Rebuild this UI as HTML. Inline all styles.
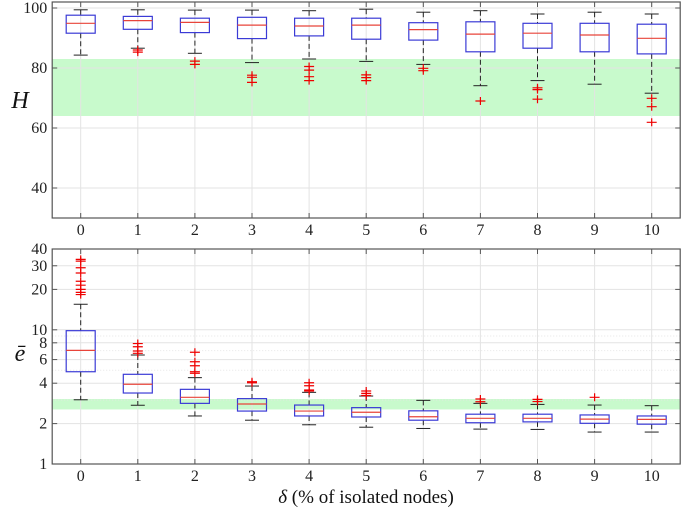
<!DOCTYPE html>
<html><head><meta charset="utf-8"><style>
html,body{margin:0;padding:0;background:#fff;width:683px;height:513px;overflow:hidden}
svg{display:block}
svg text{font-family:"Liberation Serif","DejaVu Serif",serif}
</style></head><body>
<svg id="chart" width="683" height="513" viewBox="0 0 683 513" xmlns="http://www.w3.org/2000/svg" font-family="Liberation Serif, serif"></svg>
<script>
const categories=[0,1,2,3,4,5,6,7,8,9,10];
// top panel H
const hLow=[84.3,86.6,84.9,81.8,83,82.2,81.2,74.1,75.8,74.6,71.6];
const hQ1=[91.6,92.9,91.8,89.8,90.7,89.6,89.3,85.4,86.6,85.4,84.7];
const hMed=[94.9,95.8,95.2,94.3,94,94.3,92.8,91.3,91.6,91,89.9];
const hQ3=[97.6,97.2,96.6,96.9,96.6,96.6,95.1,95.4,94.9,94.9,94.6];
const hHigh=[99.4,99.4,99.3,99.3,99.1,99.6,98.6,99.1,98,98.6,98];
const hOut=[[],[86,85.3],[82.3,81.2],[77.6,76.9,75.2],[80.5,79.3,77.1,75.8],[77.7,76.8,75.8],[79.9,79.1],[69],[73.4,72.8,69.6],[],[69.9,67.1,61.9]];
const hTicks=[40,60,80,100];
const hBand=[64,83];
// bottom panel e-bar (log)
const eLow=[3.01,2.74,2.28,2.12,1.96,1.88,1.84,1.82,1.81,1.73,1.73];
const eQ1=[4.87,3.38,2.83,2.48,2.28,2.24,2.12,2.03,2.06,2.01,1.98];
const eMed=[7.03,3.93,3.14,2.8,2.48,2.43,2.25,2.19,2.19,2.16,2.15];
const eQ3=[9.85,4.66,3.6,3.07,2.75,2.63,2.49,2.35,2.35,2.32,2.28];
const eHigh=[15.5,6.49,4.4,3.81,3.42,3.21,2.98,2.83,2.78,2.75,2.72];
const eOut=[[33.5,32.5,29,26.5,23,21.5,20,19,18.3],[7.9,7.48,6.95,6.68],[6.8,5.78,5.4,4.87,4.74],[4.1,4.03],[4.03,3.83,3.56,3.5],[3.5,3.36,3.24],[],[3.05,2.91],[3.03,2.92],[3.14],[]];
const eTicks=[1,2,4,6,8,10,20,30,40];
const eMinor=[3,5,7,9];
const eBand=[2.55,3.05];

const NS="http://www.w3.org/2000/svg";
const svg=document.getElementById('chart');
function mk(tag,attrs,parent){const e=document.createElementNS(NS,tag);for(const k in attrs)e.setAttribute(k,attrs[k]);(parent||svg).appendChild(e);return e;}
const FF='Liberation Serif, DejaVu Serif, serif';
const X0=52.2,X1=680.2;
function xs(i){return 80.7+57.1*i;}
function yTop(v){return 8+(100-v)*3;}
function yBot(v){return 464-134.2*Math.log10(v);}

function panel(name,yf,yMin,yMax,ticks,minor,band,low,q1,med,q3,high,outs){
  const g=mk('g',{});
  
  
  const top=yf(yMax),bot=yf(yMin);
  const b=mk('rect',{x:X0,y:yf(band[1]),width:X1-X0,height:yf(band[0])-yf(band[1]),fill:'#c8facc'},g);
  
  
  categories.forEach((c,i)=>{mk('line',{x1:xs(i),x2:xs(i),y1:top,y2:bot,stroke:'#e3e3e3','stroke-width':1},g);});
  ticks.forEach(t=>{mk('line',{x1:X0,x2:X1,y1:yf(t),y2:yf(t),stroke:'#e3e3e3','stroke-width':1},g);});
  minor.forEach(t=>{mk('line',{x1:X0,x2:X1,y1:yf(t),y2:yf(t),stroke:'#e6e6e6','stroke-width':1,'stroke-dasharray':'1,2'},g);});
  categories.forEach((c,i)=>{
    const x=xs(i),w=14.5,cw=7;
    const bg=mk('g',{},g);
    
    
    mk('line',{x1:x,x2:x,y1:yf(high[i]),y2:yf(q3[i]),stroke:'#222','stroke-width':1,'stroke-dasharray':'5,3'},bg);
    mk('line',{x1:x,x2:x,y1:yf(q1[i]),y2:yf(low[i]),stroke:'#222','stroke-width':1,'stroke-dasharray':'5,3'},bg);
    mk('line',{x1:x-cw,x2:x+cw,y1:yf(high[i]),y2:yf(high[i]),stroke:'#222','stroke-width':1},bg);
    mk('line',{x1:x-cw,x2:x+cw,y1:yf(low[i]),y2:yf(low[i]),stroke:'#222','stroke-width':1},bg);
    mk('rect',{x:x-w,y:yf(q3[i]),width:2*w,height:yf(q1[i])-yf(q3[i]),fill:'none',stroke:'#3b3bd6','stroke-width':1.2},bg);
    mk('line',{x1:x-w,x2:x+w,y1:yf(med[i]),y2:yf(med[i]),stroke:'#e8443a','stroke-width':1.2},bg);
    outs[i].forEach(o=>{
      const p=mk('path',{d:`M${x-5},${yf(o)}h10M${x},${yf(o)-4}v8`,stroke:'#e00','stroke-width':1.2,fill:'none'},bg);
      
      
    });
  });
  mk('rect',{x:X0,y:top,width:X1-X0,height:bot-top,fill:'none',stroke:'#555','stroke-width':1.2},g);
  ticks.forEach(t=>{
    mk('line',{x1:X0,x2:X0+5,y1:yf(t),y2:yf(t),stroke:'#555'},g);
    mk('line',{x1:X1,x2:X1-5,y1:yf(t),y2:yf(t),stroke:'#555'},g);
    const tx=mk('text',{x:X0-5,y:yf(t)+5,'text-anchor':'end','font-size':16,fill:'#222','font-family':FF},g);
    tx.textContent=t;
    
    
  });
  categories.forEach((c,i)=>{
    mk('line',{x1:xs(i),x2:xs(i),y1:bot,y2:bot-5,stroke:'#555'},g);
    mk('line',{x1:xs(i),x2:xs(i),y1:top,y2:top+5,stroke:'#555'},g);
    const tx=mk('text',{x:xs(i),y:bot+17,'text-anchor':'middle','font-size':16,fill:'#222','font-family':FF},g);
    tx.textContent=c;
    
    
  });
}
panel('h',yTop,30,102,hTicks,[],hBand,hLow,hQ1,hMed,hQ3,hHigh,hOut);
panel('e',yBot,1,40,eTicks,eMinor,eBand,eLow,eQ1,eMed,eQ3,eHigh,eOut);

const t1=mk('text',{x:20,y:108,'text-anchor':'middle','font-size':24,'font-style':'italic',fill:'#111','font-family':FF});
t1.textContent='H';


const t2=mk('text',{x:20,y:361,'text-anchor':'middle','font-size':24,'font-style':'italic',fill:'#111','font-family':FF});
t2.textContent='ē';


const t3=mk('text',{x:366,y:503,'text-anchor':'middle','font-size':19,fill:'#111','font-family':FF});
t3.innerHTML='<tspan font-style="italic">δ</tspan> (% of isolated nodes)';


</script>
</body></html>
